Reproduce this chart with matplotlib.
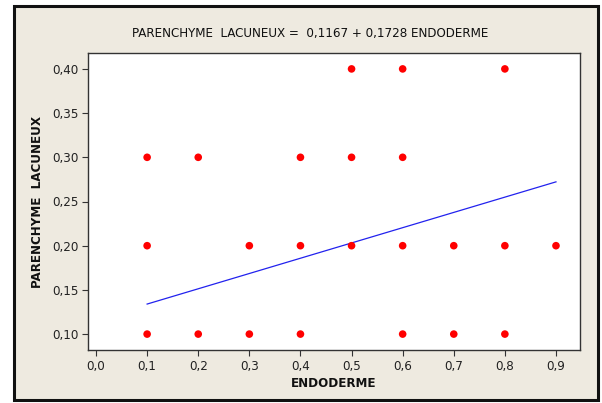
import matplotlib
matplotlib.use("Agg")
import matplotlib.pyplot as plt
from matplotlib.patches import Rectangle
import numpy as np

# Observations (ENDODERME, PARENCHYME LACUNEUX)
endoderme = [0.5, 0.6, 0.8,
             0.1, 0.2, 0.4, 0.5, 0.6,
             0.1, 0.3, 0.4, 0.5, 0.6, 0.7, 0.8, 0.9,
             0.1, 0.2, 0.3, 0.4, 0.6, 0.7, 0.8]
parenchyme = [0.40, 0.40, 0.40,
              0.30, 0.30, 0.30, 0.30, 0.30,
              0.20, 0.20, 0.20, 0.20, 0.20, 0.20, 0.20, 0.20,
              0.10, 0.10, 0.10, 0.10, 0.10, 0.10, 0.10]

# Fitted regression line
intercept = 0.1167
slope = 0.1728
fit_range = [0.1, 0.9]

x_ticks = [0.0, 0.1, 0.2, 0.3, 0.4, 0.5, 0.6, 0.7, 0.8, 0.9]
y_ticks = [0.10, 0.15, 0.20, 0.25, 0.30, 0.35, 0.40]

plt.rcParams["font.family"] = ["DejaVu Sans"]
plt.rcParams["font.stretch"] = "condensed"

bg = "#EEEAE0"
fig = plt.figure(figsize=(6.02, 4.03), dpi=100)
fig.patch.set_facecolor("white")
W, H = 602, 403

# Outer framed panel
fig.patches.append(Rectangle((14 / W, 1 - 400 / H), (598 - 14) / W, (400 - 6) / H,
                             transform=fig.transFigure, facecolor=bg,
                             edgecolor="#111111", linewidth=2.2, zorder=-5))

ax = fig.add_axes([88 / W, 1 - 350 / H, (580 - 88) / W, (350 - 53) / H])
ax.set_zorder(2)
ax.set_facecolor("white")

ax.scatter(endoderme, parenchyme, s=30, color="#FF0000", edgecolors="none", zorder=3)
xf = np.array(fit_range)
ax.plot(xf, intercept + slope * xf, color="#2222EE", linewidth=0.9, zorder=2)

ax.set_xlim(-0.0157, 0.947)
ax.set_ylim(0.082, 0.418)
ax.set_xticks(x_ticks)
ax.set_yticks(y_ticks)
ax.set_xticklabels([f"{v:.1f}".replace(".", ",") for v in x_ticks])
ax.set_yticklabels([f"{v:.2f}".replace(".", ",") for v in y_ticks])
ax.tick_params(direction="out", length=4, width=0.8, color="#333333",
               labelsize=9.5, labelcolor="#222222", pad=3)

for side in ["left", "bottom", "top", "right"]:
    ax.spines[side].set_color("#333333")
    ax.spines[side].set_linewidth(1.0)

ax.set_xlabel("ENDODERME", fontsize=9.5, fontweight="bold", color="#111111", labelpad=3)
ax.set_ylabel("PARENCHYME  LACUNEUX", fontsize=9.5, fontweight="bold", color="#111111", labelpad=6)

fig.text(310 / W, 1 - 34 / H, "PARENCHYME  LACUNEUX =  0,1167 + 0,1728 ENDODERME",
         ha="center", va="center", fontsize=9.5, color="#111111")

fig.savefig("out.png", dpi=100, facecolor=fig.get_facecolor())
